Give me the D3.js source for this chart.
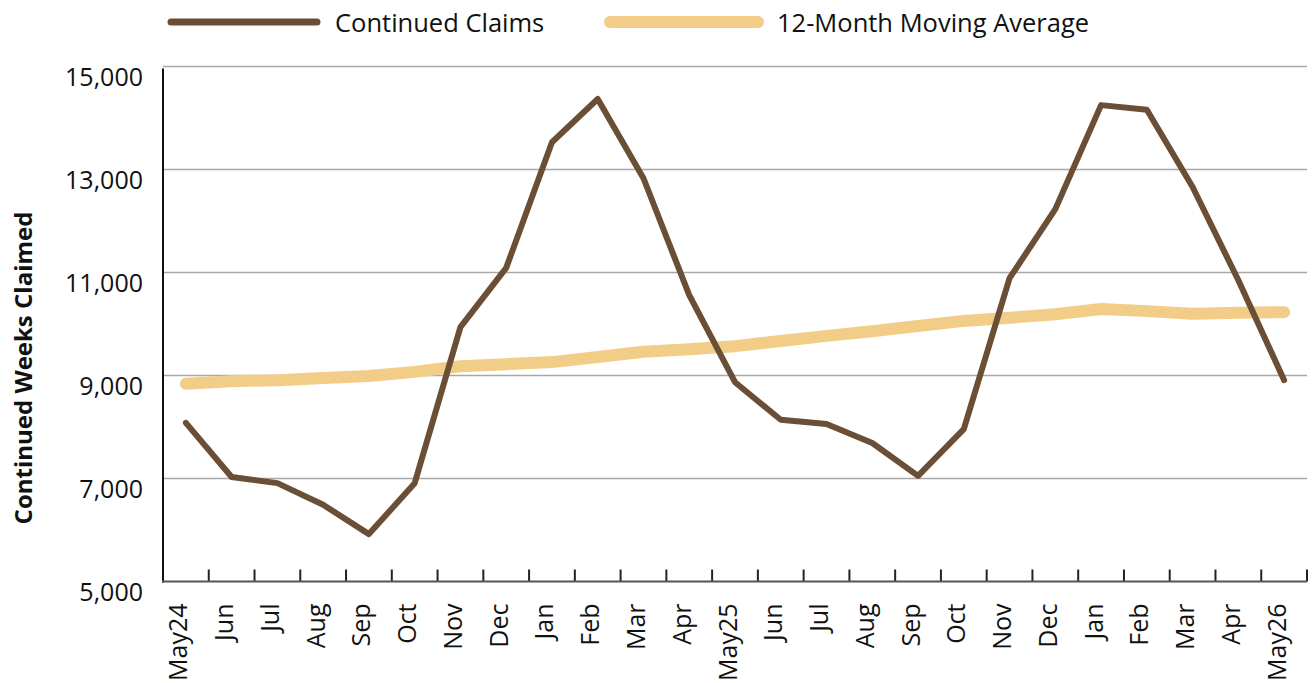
<!DOCTYPE html>
<html>
<head>
<meta charset="utf-8">
<script src="https://cdn.jsdelivr.net/npm/d3@7"></script>
<style>
  body { margin: 0; background: #fff; }
  svg { display: block; }
</style>
</head>
<body>
<svg id="chart"></svg>
<script>
// month labels along the bottom
const months = ["May24", "Jun", "Jul", "Aug", "Sep", "Oct", "Nov", "Dec", "Jan", "Feb", "Mar", "Apr",
    "May25", "Jun", "Jul", "Aug", "Sep", "Oct", "Nov", "Dec", "Jan", "Feb", "Mar", "Apr", "May26"]

// continued weeks claimed
const claims = [8080, 7030, 6910, 6490, 5920, 6910, 9940, 11090, 13530, 14370, 12830, 10560,
    8870, 8140, 8060, 7690, 7050, 7960, 10890, 12230, 14250, 14160, 12660, 10850, 8910]

// 12-month moving average
const movingAvg = [8840, 8890, 8910, 8950, 8990, 9070, 9180, 9220, 9260, 9360, 9460, 9510,
    9570, 9670, 9770, 9860, 9960, 10060, 10120, 10190, 10290, 10250, 10200, 10220, 10230]

const yTicks = [5000, 7000, 9000, 11000, 13000, 15000]

const width = 1312
const height = 683
const pad_left = 163
const pad_right = 5
const pad_top = 66.5
const pad_bottom = 101.5

const brown = "#6b4e36"
const sand = "#f2cd88"
const font = "'Open Sans', sans-serif"

let svg = d3.select("#chart")
    .attr("width", width)
    .attr("height", height)

// each month keeps its own slot, so points sit in the middle of it
let xScale = d3.scaleBand()
    .domain(d3.range(months.length))
    .range([pad_left, width - pad_right])
    .paddingInner(0)
    .paddingOuter(0)

let yScale = d3.scaleLinear()
    .domain([5000, 15000])
    .range([height - pad_bottom, pad_top])

// horizontal grid
svg.append("g")
    .selectAll("line")
    .data(yTicks.filter(d => d > 5000))
    .join("line")
    .attr("x1", pad_left)
    .attr("x2", width - pad_right)
    .attr("y1", d => yScale(d))
    .attr("y2", d => yScale(d))
    .attr("stroke", "#a8a8a8")
    .attr("stroke-width", 1.5)

// y axis, labels hang a bit below their grid line like in the original
let yAxis = d3.axisLeft(yScale)
    .tickValues(yTicks)
    .tickFormat(d3.format(","))
    .tickSize(0)
    .tickPadding(20)
let yG = svg.append("g")
    .attr("transform", "translate(" + pad_left + ",0)")
    .call(yAxis)
yG.select(".domain").remove()
yG.selectAll("text")
    .style("font", "25px " + font)
    .attr("fill", "#111")
    .attr("dy", "18.5px")

svg.append("line")
    .attr("x1", pad_left).attr("x2", pad_left)
    .attr("y1", yScale(15000) + 2).attr("y2", yScale(5000) + 1)
    .attr("stroke", "#111")
    .attr("stroke-width", 2)

// x axis: ticks between the months, pointing up into the plot
let boundaries = d3.range(1, months.length + 1)
svg.append("g")
    .selectAll("line")
    .data(boundaries)
    .join("line")
    .attr("x1", d => xScale.range()[0] + d * xScale.step())
    .attr("x2", d => xScale.range()[0] + d * xScale.step())
    .attr("y1", yScale(5000))
    .attr("y2", yScale(5000) - 12)
    .attr("stroke", "#222")
    .attr("stroke-width", 2)

svg.append("line")
    .attr("x1", pad_left - 1).attr("x2", width - pad_right)
    .attr("y1", yScale(5000)).attr("y2", yScale(5000))
    .attr("stroke", "#555")
    .attr("stroke-width", 2)

svg.append("g")
    .selectAll("text")
    .data(months)
    .join("text")
    .attr("transform", (d, i) => "translate(" + (xScale(i) + xScale.bandwidth() / 2 + 1.5) + "," + (yScale(5000) + 22) + ") rotate(-90)")
    .attr("text-anchor", "end")
    .style("font", "25px " + font)
    .attr("fill", "#111")
    .text(d => d)

// axis title
svg.append("text")
    .attr("transform", "translate(32," + 368 + ") rotate(-90)")
    .attr("text-anchor", "middle")
    .style("font", "bold 24px " + font)
    .attr("fill", "#111")
    .text("Continued Weeks Claimed")

let xMid = i => xScale(i) + xScale.bandwidth() / 2

// moving average first, claims drawn on top
svg.append("path")
    .datum(movingAvg)
    .attr("fill", "none")
    .attr("stroke", sand)
    .attr("stroke-width", 12)
    .attr("stroke-linecap", "round")
    .attr("stroke-linejoin", "round")
    .attr("d", d3.line().x((d, i) => xMid(i)).y(d => yScale(d)))

svg.append("path")
    .datum(claims)
    .attr("fill", "none")
    .attr("stroke", brown)
    .attr("stroke-width", 6)
    .attr("stroke-linecap", "round")
    .attr("stroke-linejoin", "round")
    .attr("d", d3.line().x((d, i) => xMid(i)).y(d => yScale(d)))

// legend
let legendItems = [
    { name: "Continued Claims", color: brown, w: 7, x1: 171, x2: 317, tx: 335 },
    { name: "12-Month Moving Average", color: sand, w: 12, x1: 610, x2: 758, tx: 777 }
]
let legend = svg.append("g")
legend.selectAll("line")
    .data(legendItems)
    .join("line")
    .attr("x1", d => d.x1).attr("x2", d => d.x2)
    .attr("y1", 22).attr("y2", 22)
    .attr("stroke", d => d.color)
    .attr("stroke-width", d => d.w)
    .attr("stroke-linecap", "round")
legend.selectAll("text")
    .data(legendItems)
    .join("text")
    .attr("x", d => d.tx)
    .attr("y", 32)
    .style("font", "25.5px " + font)
    .attr("fill", "#111")
    .text(d => d.name)
</script>
</body>
</html>
